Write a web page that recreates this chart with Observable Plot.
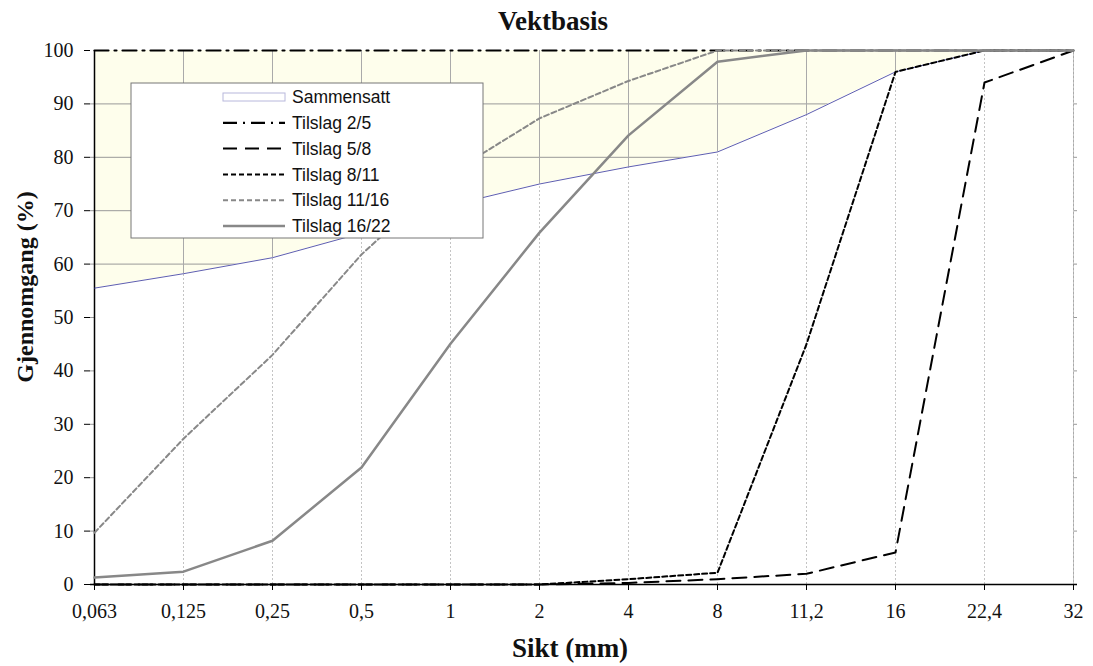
<!DOCTYPE html>
<html><head><meta charset="utf-8">
<script src="https://cdn.jsdelivr.net/npm/d3@7"></script>
<script src="https://cdn.jsdelivr.net/npm/@observablehq/plot@0.6"></script>
<style>body{margin:0;background:#fff}</style>
</head><body><div id="chart"></div>
<script>
const title = "Vektbasis";
const xTitle = "Sikt (mm)";
const yTitle = "Gjennomgang (%)";
const sieves = ["0,063","0,125","0,25","0,5","1","2","4","8","11,2","16","22,4","32"];
const sammensatt = [55.5, 58.2, 61.2, 65.8, 71, 75, 78.2, 81, 88, 96, 100, 100];
const tilslag25  = [100, 100, 100, 100, 100, 100, 100, 100, 100, 100, 100, 100];
const tilslag58  = [0, 0, 0, 0, 0, 0, 0.3, 1, 2, 6, 94, 100];
const tilslag811 = [0, 0, 0, 0, 0, 0, 1, 2.2, 45, 96, 100, 100];
const tilslag1116 = [9.7, 27.3, 43, 61.8, 77, 87.3, 94.3, 100, 100, 100, 100, 100];
const tilslag1622 = [1.3, 2.4, 8.2, 21.9, 45.1, 65.9, 84.1, 97.9, 100, 100, 100, 100];
const seriesNames = ["Sammensatt","Tilslag 2/5","Tilslag 5/8","Tilslag 8/11","Tilslag 11/16","Tilslag 16/22"];

const rows = v => sieves.map((s, i) => ({s, v: v[i]}));
const samm = rows(sammensatt);

const styles = {
  "Tilslag 2/5":  {stroke:"#000", strokeWidth:2.2, strokeDasharray:"14,6,2,6"},
  "Tilslag 5/8":  {stroke:"#000", strokeWidth:2, strokeDasharray:"14,8"},
  "Tilslag 8/11": {stroke:"#000", strokeWidth:2, strokeDasharray:"5,3"},
  "Tilslag 11/16":{stroke:"#888", strokeWidth:2, strokeDasharray:"5,3"},
  "Tilslag 16/22":{stroke:"#888", strokeWidth:2.5}
};
const seriesData = {
  "Tilslag 2/5": tilslag25, "Tilslag 5/8": tilslag58, "Tilslag 8/11": tilslag811,
  "Tilslag 11/16": tilslag1116, "Tilslag 16/22": tilslag1622
};
const serif = "'Liberation Serif', 'Times New Roman', serif";

const plot = Plot.plot({
  width: 1093, height: 666,
  marginTop: 50, marginBottom: 82, marginLeft: 90, marginRight: 16,
  style: {background: "white"},
  x: {type: "point", domain: sieves, padding: 0, label: null},
  y: {domain: [0, 100], label: null},
  marks: [
    Plot.areaY(samm, {x: "s", y1: "v", y2: 100, fill: "#fefeec"}),
    Plot.gridY(d3.range(10, 100, 10), {stroke: "#999", strokeOpacity: 1}),
    Plot.gridX(sieves.slice(1), {stroke: "#aaa", strokeOpacity: 1}),
    Plot.areaY(samm, {x: "s", y1: 0, y2: "v", fill: "white"}),
    Plot.ruleX(samm.slice(1), {x: "s", y1: 0, y2: "v", stroke: "#c4c4c4", strokeDasharray: "2,2"}),
    Plot.axisX({tickSize: 6, tickPadding: 13, fontSize: 20, fontFamily: serif, label: null}),
    Plot.axisY(d3.range(0, 101, 10), {tickSize: 6, tickPadding: 11, fontSize: 20, fontFamily: serif, label: null}),
    Plot.ruleY([0], {stroke: "#000", strokeWidth: 1.5}),
    Plot.ruleX([sieves[0]], {stroke: "#000", strokeWidth: 1.5}),
    Plot.line(samm, {x: "s", y: "v", stroke: "#35359a", strokeWidth: 0.8}),
    ...Object.keys(seriesData).map(k => Plot.line(rows(seriesData[k]), {x: "s", y: "v", ...styles[k]}))
  ]
});
document.getElementById("chart").appendChild(plot);

const svg = d3.select(plot);
svg.selectAll("g[aria-label$='tick label'], g[aria-label$='tick label'] text")
  .style("font-family", serif).style("font-size", "20px").attr("fill", "#111");

svg.append("text").attr("x", 553).attr("y", 30).attr("text-anchor", "middle")
  .attr("font-family", serif).attr("font-weight", "bold").attr("font-size", 27)
  .attr("fill", "#111").text(title);
svg.append("text").attr("x", 570).attr("y", 657).attr("text-anchor", "middle")
  .attr("font-family", serif).attr("font-weight", "bold").attr("font-size", 27)
  .attr("fill", "#111").text(xTitle);
svg.append("text").attr("transform", "translate(33,287) rotate(-90)").attr("text-anchor", "middle")
  .attr("font-family", serif).attr("font-weight", "bold").attr("font-size", 24)
  .attr("fill", "#111").text(yTitle);

// Legend
const lg = svg.append("g");
lg.append("rect").attr("x", 131).attr("y", 83).attr("width", 352).attr("height", 155)
  .attr("fill", "white").attr("stroke", "#777").attr("stroke-width", 1);
seriesNames.forEach((name, i) => {
  const cy = 97 + i * 25.8;
  if (name === "Sammensatt") {
    lg.append("rect").attr("x", 223).attr("y", cy - 4).attr("width", 62).attr("height", 8)
      .attr("fill", "white").attr("stroke", "#b8b8dc").attr("stroke-width", 1);
  } else {
    const st = styles[name];
    lg.append("line").attr("x1", 223).attr("x2", 285).attr("y1", cy).attr("y2", cy)
      .attr("stroke", st.stroke).attr("stroke-width", st.strokeWidth)
      .attr("stroke-dasharray", st.strokeDasharray || null);
  }
  lg.append("text").attr("x", 292).attr("y", cy).attr("dy", "0.35em").attr("text-anchor", "start")
    .attr("font-family", "'Liberation Sans', Arial, sans-serif").attr("font-size", 17.5).attr("fill", "#111").text(name);
});
</script></body></html>
